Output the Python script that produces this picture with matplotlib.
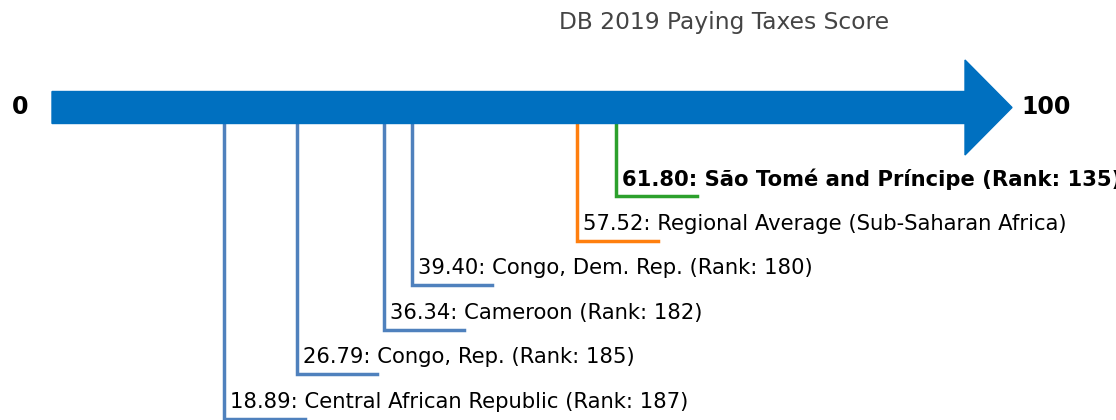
import matplotlib.pyplot as plt

labels = ["São Tomé and Príncipe (Rank: 135)",
          "Regional Average (Sub-Saharan Africa)",
          "Congo, Dem. Rep. (Rank: 180)",
          "Cameroon (Rank: 182)",
          "Congo, Rep. (Rank: 185)",
          "Central African Republic (Rank: 187)"]
scores = [61.80, 57.52, 39.40, 36.34, 26.79, 18.89]
colors = ["#2ca02c", "#ff7f0e", "#4f81bd", "#4f81bd", "#4f81bd", "#4f81bd"]
bold = [True, False, False, False, False, False]

fig = plt.figure(figsize=(11.16, 4.2), dpi=100)
ax = fig.add_axes([0, 0, 1, 1])
ax.set_xlim(-52 / 9.13, (1116 - 52) / 9.13)
ax.set_ylim(420, 0)
ax.axis('off')

# main arrow 0..100
ax.arrow(0, 107.5, 100, 0, width=32, head_width=95, head_length=5.15,
         length_includes_head=False, color='#0070c0', zorder=3)
ax.text(-3.5, 107.5, "0", fontsize=17, fontweight='bold', ha='center', va='center')
ax.text(106.2, 107.5, "100", fontsize=17, fontweight='bold', ha='left', va='center')

ax.text(73.6, 23, "DB 2019 Paying Taxes Score", fontsize=16.8, color='#444444',
        ha='center', va='center')

for i, (s, lab, c, b) in enumerate(zip(scores, labels, colors, bold)):
    yb = 196 + i * 44.6
    ax.plot([s, s, s + 8.8], [110, yb, yb], color=c, lw=2.5, zorder=2,
            solid_joinstyle='miter')
    ax.text(s + 0.65, yb - 17, f"{s:.2f}: {lab}", fontsize=15.2,
            fontweight='bold' if b else 'normal', ha='left', va='center')

fig.savefig("out.png", dpi=100)
